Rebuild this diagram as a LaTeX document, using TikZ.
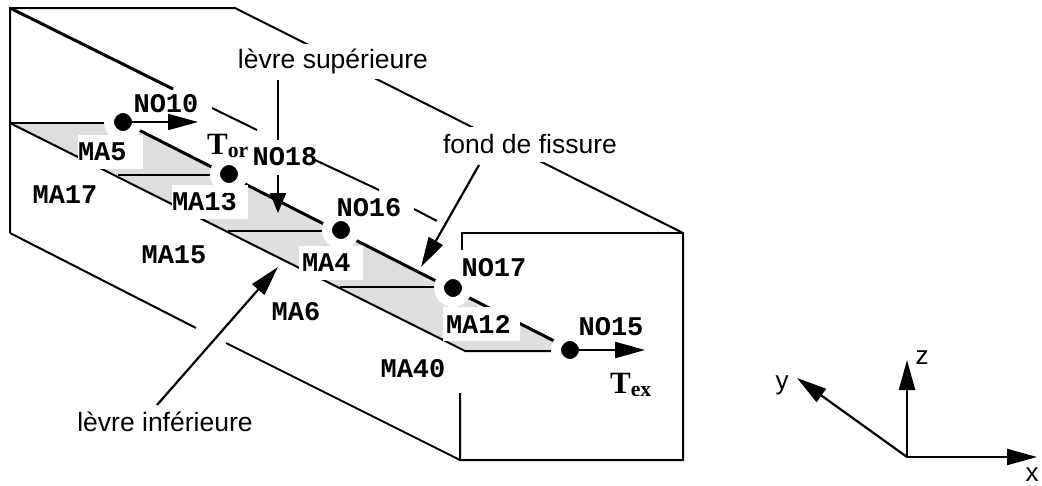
\documentclass[tikz,border=0pt]{standalone}
\usepackage{fontspec}
\setmainfont{Liberation Sans}
\newfontfamily\monofont{Liberation Mono}
\newfontfamily\serifont{Liberation Serif}
\usetikzlibrary{arrows.meta, positioning}
\definecolor{fissgray}{RGB}{222, 222, 222}

\begin{document}
\begin{tikzpicture}[
  x=1pt, y=-1pt,
  blockline/.style={line width=2pt},
  frontline/.style={line width=3pt},
  arrow/.style={-{Triangle[length=30pt, width=16pt]}, line width=2.2pt},
  malabel/.style={font=\fontsize{27}{27}\selectfont\monofont\bfseries, inner sep=0pt},
  patch/.style={malabel, fill=white, text width=65pt, align=left, minimum height=34pt},
  callout/.style={font=\fontsize{26.5}{26.5}\selectfont, fill=white, inner sep=0pt, minimum height=35pt},
  loadlabel/.style={font=\fontsize{31}{31}\selectfont\serifont\bfseries, inner sep=0pt},
  axislabel/.style={font=\fontsize{26}{26}\selectfont, inner sep=0pt},
  dot/.style={circle, fill=black, draw=white, line width=10pt, minimum size=28pt, inner sep=0pt}
]
  \useasboundingbox (0,0) rectangle (1042,485);

  % Crack surface
  \fill[fissgray] (10,123) -- (123,123) -- (570,349) -- (570,351) -- (465,351) -- cycle;

  % Block
  \draw[blockline] (10,233) -- (10,8) -- (235,8) -- (683,233) -- (683,460) -- (460,460) -- (460,393);
  \draw[blockline] (462,250) -- (462,233) -- (683,233);
  \draw[blockline] (10,233) -- (196,328);
  \draw[blockline] (226,343) -- (460,460);
  \draw[frontline] (10,8) -- (173,89);
  \draw[blockline] (212,108) -- (257,130);
  \draw[blockline] (315,160) -- (379,190);
  \draw[blockline] (414,209) -- (437,221);

  % Crack
  \draw[blockline] (10,123) -- (465,351) -- (570,351);
  \draw[blockline] (10,123) -- (123,123);
  \draw[blockline] (118,175) -- (229,175);
  \draw[blockline] (228,231) -- (341,231);
  \draw[blockline] (340,287) -- (453,287);
  \draw[frontline] (123,122) -- (570,349);

  % Patches
  \node[patch] (ma5) at (110.5,152) {MA5};
  \node[patch, text width=76pt] (ma13) at (210,202) {MA13};
  \node[patch, text width=64pt] (ma4) at (331,263) {\hspace{3pt}MA4};
  \node[patch, text width=77pt] (ma12) at (481.5,324) {\hspace{3pt}MA12};
  \node[malabel] (ma17) at (65,195) {MA17};
  \node[malabel] (ma15) at (174,255) {MA15};
  \node[malabel] (ma6) at (296,312) {MA6};
  \node[malabel] (ma40) at (413,369) {MA40};

  % Nodes
  \node[dot] (n10) at (123,122) {};
  \node[dot] (n18) at (229,174) {};
  \node[dot] (n16) at (341,230) {};
  \node[dot] (n17) at (453,288) {};
  \node[dot] (n15) at (570,350) {};
  \node[malabel] (no10) at (166,104) {NO10};
  \node[malabel] (no18) at (285,157) {NO18};
  \node[malabel] (no16) at (369,208) {NO16};
  \node[malabel] (no17) at (494,268) {NO17};
  \node[malabel] (no15) at (611,327) {NO15};
  \node[loadlabel] (tor) at (228,146) {T\textsubscript{or}};
  \node[loadlabel] (tex) at (631,385) {T\textsubscript{ex}};

  % Loads
  \coordinate (tor tip) at (198,122);
  \coordinate (tex tip) at (645,350);
  \draw[arrow] (n10.center) -- (tor tip);
  \draw[arrow] (n15.center) -- (tex tip);

  % Labels
  \node[callout] (sup) at (333,61.5) {lèvre supérieure};
  \node[callout] (fond) at (530,144.5) {fond de fissure};
  \node[callout] (inf) at (165,422) {lèvre inférieure};
  \coordinate (sup end) at (278,140);
  \coordinate (sup tip) at (278,213);
  \coordinate (fond tip) at (421,267);
  \coordinate (inf tip) at (278,267);
  \draw[line width=2.2pt] (278,80) -- (sup end);
  \draw[arrow, -{Triangle[length=20pt, width=16pt]}] (278,175) -- (sup tip);
  \draw[arrow] (479,165) -- (fond tip);
  \draw[arrow] (157,405) -- (inf tip);

  % Axes
  \coordinate (origin) at (907,457);
  \node[axislabel] (xlab) at (1032,475) {x};
  \node[axislabel] (ylab) at (782,385) {y};
  \node[axislabel] (zlab) at (922,358) {z};
  \coordinate (xtip) at (1037,457);
  \coordinate (ytip) at (797,378);
  \coordinate (ztip) at (907,360);
  \draw[arrow] (origin) -- (xtip);
  \draw[arrow] (origin) -- (ytip);
  \draw[arrow] (origin) -- (ztip);
\end{tikzpicture}
\end{document}
